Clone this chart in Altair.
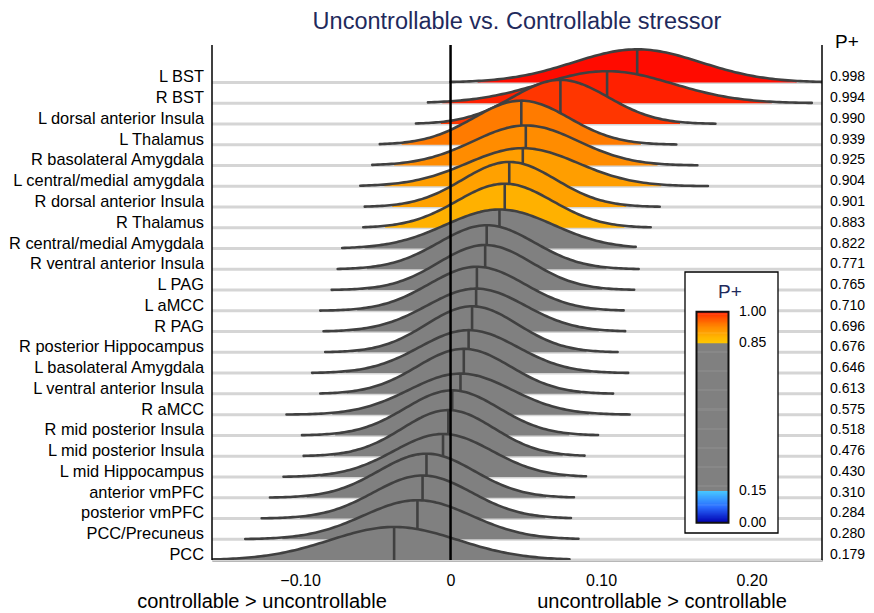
import altair as alt
import numpy as np
import pandas as pd

# ---------------- data ----------------
regions = ["L BST", "R BST", "L dorsal anterior Insula", "L Thalamus", "R basolateral Amygdala",
           "L central/medial amygdala", "R dorsal anterior Insula", "R Thalamus",
           "R central/medial Amygdala", "R ventral anterior Insula", "L PAG", "L aMCC", "R PAG",
           "R posterior Hippocampus", "L basolateral Amygdala", "L ventral anterior Insula",
           "R aMCC", "R mid posterior Insula", "L mid posterior Insula", "L mid Hippocampus",
           "anterior vmPFC", "posterior vmPFC", "PCC/Precuneus", "PCC"]
p_plus = [0.998, 0.994, 0.990, 0.939, 0.925, 0.904, 0.901, 0.883, 0.822, 0.771, 0.765, 0.710,
          0.696, 0.676, 0.646, 0.613, 0.575, 0.518, 0.476, 0.430, 0.310, 0.284, 0.280, 0.179]
medians = [0.124, 0.104, 0.073, 0.047, 0.050, 0.048, 0.039, 0.036, 0.0325, 0.024, 0.023, 0.0175,
           0.017, 0.0143, 0.012, 0.0088, 0.0066, 0.0011, -0.0015, -0.005, -0.016, -0.0186,
           -0.022, -0.0375]
spreads = [0.0424, 0.0438, 0.0318, 0.0318, 0.0350, 0.0368, 0.0311, 0.0318, 0.0359, 0.0318,
           0.0311, 0.0318, 0.0326, 0.0304, 0.0326, 0.0311, 0.0341, 0.0311, 0.0304, 0.0326,
           0.0318, 0.0326, 0.0359, 0.0424]
tail_lo = [0.0, -0.015, -0.023, -0.047, -0.052, -0.060, -0.057, -0.058, -0.072, -0.075, -0.079,
           -0.0866, -0.0844, -0.0833, -0.092, -0.0866, -0.109, -0.0987, -0.0976, -0.111, -0.120,
           -0.1255, -0.1364, -0.165]
tail_hi = [0.247, 0.240, 0.176, 0.150, 0.164, 0.171, 0.139, 0.133, 0.123, 0.125, 0.122, 0.115,
           0.116, 0.111, 0.118, 0.108, 0.119, 0.098, 0.089, 0.090, 0.082, 0.080, 0.085, 0.079]
tick_values = [-0.10, 0.0, 0.10, 0.20]
legend_values = [1.00, 0.85, 0.15, 0.00]

# P+ colour scale (piecewise)
p_domain = [0.0, 0.075, 0.14999, 0.15, 0.85, 0.85001, 0.88, 0.90, 0.925, 0.94, 0.99, 1.0]
p_range = ["#0000b0", "#2a6cff", "#48c8ff", "#808080", "#808080", "#ffc800", "#ffb400",
           "#ffa200", "#ff8c00", "#ff7a00", "#ff3600", "#ff0000"]

# ---------------- layout constants ----------------
FONT = "Liberation Sans"
W, H = 610, 515
X_DOMAIN = [-0.1585, 0.2468]
Y_DOMAIN = [0, 24.8]
ROW_SCALE = 0.169
LINE_C = "#404040"
NAVY = "#1f2a5c"

n = len(regions)
line_recs, fill_recs, med_recs, row_recs = [], [], [], []
for i, name in enumerate(regions):
    base = n - 1 - i
    m, s = medians[i], spreads[i]

    def top(x, m=m, s=s, base=base):
        return base + ROW_SCALE * np.exp(-0.5 * ((x - m) / s) ** 2) / (s * np.sqrt(2 * np.pi))

    for x in np.linspace(tail_lo[i], tail_hi[i], 120):
        line_recs.append(dict(row=i, x=float(x), top=float(top(x)), base=base))
    flo = max(tail_lo[i], m - 2.5 * s)
    fhi = min(tail_hi[i], m + 2.5 * s)
    for x in np.linspace(flo, fhi, 100):
        fill_recs.append(dict(row=i, x=float(x), top=float(top(x)), base=base, p=p_plus[i]))
    med_recs.append(dict(row=i, x=m, base=base, top=float(top(m))))
    row_recs.append(dict(row=i, region=name, base=base, ptxt=f"{p_plus[i]:.3f}"))

line_df = pd.DataFrame(line_recs)
fill_df = pd.DataFrame(fill_recs)
med_df = pd.DataFrame(med_recs)
rows_df = pd.DataFrame(row_recs)
one_df = pd.DataFrame({"a": [0]})

xaxis = alt.Axis(values=tick_values, title=None, grid=False, ticks=False,
                 labelExpr="datum.value == 0 ? '0' : format(datum.value, '.2f')",
                 domainColor="#333333", domainWidth=2, labelFont=FONT, labelFontSize=16,
                 labelColor="black", labelPadding=12, labelOverlap=False, labelBound=False,
                 labelFlush=False)
xscale = alt.Scale(domain=X_DOMAIN, nice=False, zero=False)
yscale = alt.Scale(domain=Y_DOMAIN, nice=False, zero=False)
pscale = alt.Scale(domain=p_domain, range=p_range, interpolate="rgb", clamp=True)


def X(f):
    return alt.X(f"{f}:Q", scale=xscale, axis=xaxis)


def Y(f):
    return alt.Y(f"{f}:Q", scale=yscale, axis=None)


layers = []
layers.append(alt.Chart(rows_df).mark_rule(color="#d5d5d5", strokeWidth=3).encode(
    x=alt.value(0), x2=alt.value(W), y=Y("base")))

for i in range(n):
    layers.append(alt.Chart(fill_df).transform_filter(alt.datum.row == i)
                  .mark_area(clip=True, opacity=1)
                  .encode(x=X("x"), y=Y("top"), y2="base",
                          color=alt.Color("p:Q", scale=pscale, legend=None)))
    layers.append(alt.Chart(line_df).transform_filter(alt.datum.row == i)
                  .mark_line(clip=True, color=LINE_C, strokeWidth=2.6, strokeCap="round",
                             strokeJoin="round")
                  .encode(x=X("x"), y=Y("top")))
    layers.append(alt.Chart(med_df).transform_filter(alt.datum.row == i)
                  .mark_rule(color=LINE_C, strokeWidth=2.6)
                  .encode(x=X("x"), y=Y("base"), y2="top"))

# zero line and side axis lines
layers.append(alt.Chart(pd.DataFrame({"x": [0.0]})).mark_rule(color="black", strokeWidth=2.5)
              .encode(x=X("x"), y=alt.value(0), y2=alt.value(H)))
layers.append(alt.Chart(one_df).mark_rule(color="black", strokeWidth=1.5)
              .encode(x=alt.value(0), y=alt.value(0), y2=alt.value(H)))
layers.append(alt.Chart(one_df).mark_rule(color="black", strokeWidth=1.5)
              .encode(x=alt.value(W), y=alt.value(0), y2=alt.value(H)))

# labels
layers.append(alt.Chart(rows_df).mark_text(align="right", baseline="middle", dx=-8, dy=-5,
                                           font=FONT, fontSize=16.4, color="black")
              .encode(x=alt.value(0), y=Y("base"), text="region:N"))
layers.append(alt.Chart(rows_df).mark_text(align="left", baseline="middle", dx=8, dy=-5,
                                           font=FONT, fontSize=14, color="black")
              .encode(x=alt.value(W), y=Y("base"), text="ptxt:N"))
layers.append(alt.Chart(one_df).mark_text(text="P+", align="center", baseline="middle",
                                          font=FONT, fontSize=19, color="black")
              .encode(x=alt.value(635), y=alt.value(-3)))
layers.append(alt.Chart(one_df).mark_text(text="Uncontrollable vs. Controllable stressor",
                                          align="center", baseline="middle", font=FONT,
                                          fontSize=23.5, color=NAVY)
              .encode(x=alt.value(305), y=alt.value(-23)))
layers.append(alt.Chart(one_df).mark_text(text="controllable > uncontrollable", align="center",
                                          baseline="middle", font=FONT, fontSize=20,
                                          color="black")
              .encode(x=alt.value(50), y=alt.value(557)))
layers.append(alt.Chart(one_df).mark_text(text="uncontrollable > controllable", align="center",
                                          baseline="middle", font=FONT, fontSize=20,
                                          color="black")
              .encode(x=alt.value(450), y=alt.value(557)))

# legend frame
layers.append(alt.Chart(one_df).mark_rect(fill="white", stroke="black", strokeWidth=1.3)
              .encode(x=alt.value(473), x2=alt.value(566), y=alt.value(227), y2=alt.value(488)))
layers.append(alt.Chart(one_df).mark_text(text="P+", align="center", baseline="middle",
                                          font=FONT, fontSize=19, color=NAVY)
              .encode(x=alt.value(518), y=alt.value(247)))

main = alt.layer(*layers)

# colour bar (own vertical scale)
steps = np.round(np.arange(0, 1.0, 0.005), 4)
bar_df = pd.DataFrame({"v0": steps, "v1": np.minimum(steps + 0.008, 1.0), "vm": steps + 0.0025})
lscale = alt.Scale(domain=[0, 1], range=[477.7, 266.7], nice=False, zero=False)
bar = alt.Chart(bar_df).mark_rect(strokeWidth=0).encode(
    x=alt.value(484.5), x2=alt.value(516.5),
    y=alt.Y("v0:Q", scale=lscale, axis=None), y2="v1",
    color=alt.Color("vm:Q", scale=pscale, legend=None))
frame_df = pd.DataFrame({"v0": [0.0], "v1": [1.0]})
bar_frame = alt.Chart(frame_df).mark_rect(fill=None, stroke="#111111", strokeWidth=2).encode(
    x=alt.value(484.5), x2=alt.value(516.5),
    y=alt.Y("v0:Q", scale=lscale, axis=None), y2="v1")
lab_df = pd.DataFrame({"v0": legend_values, "txt": [f"{v:.2f}" for v in legend_values],
                       "off": [3, 1, 0, -3]})
bar_labels = alt.Chart(lab_df).mark_text(align="left", baseline="middle", font=FONT,
                                         fontSize=14, color="black").encode(
    x=alt.value(527), y=alt.Y("v0:Q", scale=lscale, axis=None), text="txt:N",
    yOffset="off:Q")
legend = alt.layer(bar, bar_frame, bar_labels)

chart = alt.layer(main, legend).resolve_scale(y="independent").properties(
    width=W, height=H,
    padding={"left": 204, "top": 37, "right": 44, "bottom": 56},
    autosize=alt.AutoSizeParams(type="none"),
    background="white",
).configure_view(stroke=None)

chart.save("out.html", embed_options={"renderer": "svg", "actions": False})
